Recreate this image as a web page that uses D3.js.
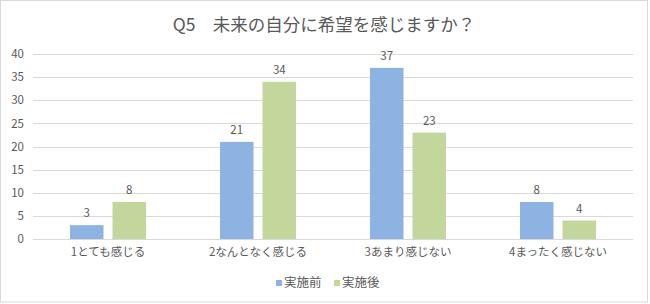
<!DOCTYPE html>
<html>
  <head>
    <meta charset='utf-8' />
    <script src="https://d3js.org/d3.v7.min.js"></script>
    <style>
    body { margin: 0; background: #fff; }
    svg text {
      font-family: "Noto Sans CJK JP", "Noto Sans", sans-serif;
      fill: #595959;
    }
    .grid line { stroke: #d9d9d9; stroke-width: 1; }
    </style>
  </head>
<body>
<svg id="chart"></svg>
<script>
var title = "Q5\u3000未来の自分に希望を感じますか？";
var categories = ["1とても感じる", "2なんとなく感じる", "3あまり感じない", "4まったく感じない"];
var seriesNames = ["実施前", "実施後"];
var before = [3, 21, 37, 8];
var after = [8, 34, 23, 4];
var yTicks = [0, 5, 10, 15, 20, 25, 30, 35, 40];
var colors = ["#8db3e2", "#c3d69b"];

var width = 650, height = 304;
var svg = d3.select("#chart").attr("width", width).attr("height", height);

svg.append("rect")
  .attr("x", 0.5).attr("y", 0.5)
  .attr("width", width - 3).attr("height", height - 2.5)
  .attr("fill", "#fff").attr("stroke", "#d9d9d9");

var x = d3.scaleBand().domain(categories).range([33, 633]).paddingInner(0).paddingOuter(0);
var x1 = d3.scaleBand().domain(seriesNames).range([0, x.bandwidth()]).paddingInner(0.212).paddingOuter(0.87);
var y = d3.scaleLinear().domain([0, 40]).range([239, 54]);

svg.append("text")
  .attr("x", 324).attr("y", 31)
  .attr("text-anchor", "middle")
  .style("font-size", "17.5px")
  .text(title);

svg.append("g").attr("class", "grid")
  .selectAll("line").data(yTicks).enter().append("line")
  .attr("x1", 33).attr("x2", 633)
  .attr("y1", function(d) { return Math.round(y(d)) + 0.5; })
  .attr("y2", function(d) { return Math.round(y(d)) + 0.5; });

var yAxis = svg.append("g")
  .attr("transform", "translate(24,0)")
  .call(d3.axisLeft(y).tickValues(yTicks).tickSize(0).tickPadding(0));
yAxis.select(".domain").remove();
yAxis.selectAll("text").style("font-size", "11.5px").attr("fill", "#595959");

var xAxis = svg.append("g")
  .attr("transform", "translate(0,247)")
  .call(d3.axisBottom(x).tickSize(0).tickPadding(0));
xAxis.select(".domain").remove();
xAxis.selectAll("text").style("font-size", "11.5px").attr("fill", "#595959").attr("dy", "0.75em");

var rows = categories.map(function(c, i) {
  return [{ cat: c, s: seriesNames[0], v: before[i] }, { cat: c, s: seriesNames[1], v: after[i] }];
});

var groups = svg.append("g").selectAll("g").data(rows).enter().append("g")
  .attr("transform", function(d) { return "translate(" + x(d[0].cat) + ",0)"; });

groups.selectAll("rect").data(function(d) { return d; }).enter().append("rect")
  .attr("x", function(d) { return x1(d.s); })
  .attr("width", x1.bandwidth())
  .attr("y", function(d) { return y(d.v); })
  .attr("height", function(d) { return y(0) - y(d.v); })
  .attr("fill", function(d, i) { return colors[i]; });

groups.selectAll("text").data(function(d) { return d; }).enter().append("text")
  .attr("x", function(d) { return x1(d.s) + x1.bandwidth() / 2; })
  .attr("y", function(d) { return y(d.v) - 8; })
  .attr("text-anchor", "middle")
  .style("font-size", "11.5px")
  .text(function(d) { return d.v; });

var legend = svg.append("g").attr("transform", "translate(276,283)");
var lx = [0, 58];
seriesNames.forEach(function(n, i) {
  legend.append("rect").attr("x", lx[i]).attr("y", -3).attr("width", 6).attr("height", 6).attr("fill", colors[i]);
  legend.append("text").attr("x", lx[i] + 8).attr("y", 0).attr("dy", "0.35em")
    .style("font-size", "12.5px").text(n);
});
</script>
</body>
</html>
